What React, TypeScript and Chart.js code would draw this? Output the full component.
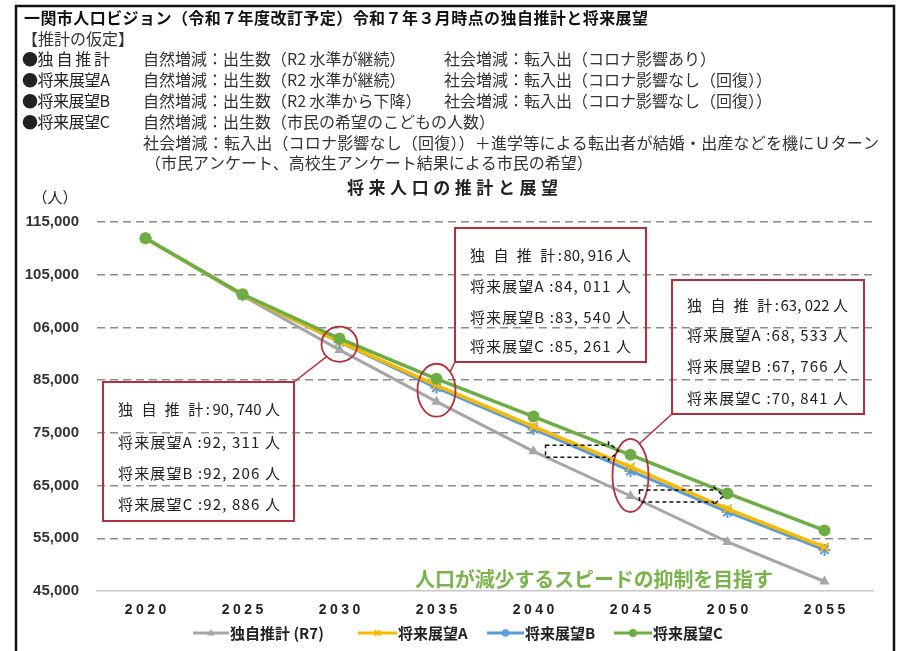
import React, { useEffect, useRef } from 'react';
import { Chart, registerables } from 'chart.js';

Chart.register(...registerables);

// ---------- data ----------
const years = ['2020', '2025', '2030', '2035', '2040', '2045', '2050', '2055'];
const dokujiValues = [111932, 101000, 90740, 80916, 71500, 63022, 54300, 46800];
const visionAValues = [111932, 101200, 92311, 84011, 76200, 68533, 60600, 53300];
const visionBValues = [111932, 101100, 92206, 83540, 75700, 67766, 60000, 52800];
const visionCValues = [111932, 101300, 92886, 85261, 78100, 70841, 63500, 56500];
const seriesNames = ['独自推計 (R7)', '将来展望A', '将来展望B', '将来展望C'];
const seriesColors = ['#A6A6A6', '#F7BA00', '#5B9BD5', '#6EAD45'];
const yTickLabels = ['45,000', '55,000', '65,000', '75,000', '85,000', '06,000', '105,000', '115,000'];
const yMin = 45000;
const yMax = 115000;
const yStep = 10000;

const headerTitle = '一関市人口ビジョン（令和７年度改訂予定）令和７年３月時点の独自推計と将来展望';
const headerSub = '【推計の仮定】';
const headerRows = [
  ['●独 自 推 計', '自然増減：出生数（R2 水準が継続）', '社会増減：転入出（コロナ影響あり）'],
  ['●将来展望A', '自然増減：出生数（R2 水準が継続）', '社会増減：転入出（コロナ影響なし（回復））'],
  ['●将来展望B', '自然増減：出生数（R2 水準から下降）', '社会増減：転入出（コロナ影響なし（回復））'],
  ['●将来展望C', '自然増減：出生数（市民の希望のこどもの人数）', ''],
];
const headerLine7 = '社会増減：転入出（コロナ影響なし（回復））＋進学等による転出者が結婚・出産などを機にＵターン';
const headerLine8 = '（市民アンケート、高校生アンケート結果による市民の希望）';
const chartTitle = '将来人口の推計と展望';
const unitLabel = '（人）';
const goalText = '人口が減少するスピードの抑制を目指す';

const calloutNames = ['独 自 推 計', '将来展望A', '将来展望B', '将来展望C'];
const callout2030 = ['90, 740', '92, 311', '92, 206', '92, 886'];
const callout2035 = ['80, 916', '84, 011', '83, 540', '85, 261'];
const callout2045 = ['63, 022', '68, 533', '67, 766', '70, 841'];

const JP = '"Noto Sans CJK JP", "Noto Sans", sans-serif';
const RED = '#B0303C';

function drawText(
  ctx: CanvasRenderingContext2D,
  text: string,
  x: number,
  y: number,
  font: string,
  color: string,
  opts: { width?: number; align?: 'left' | 'center' | 'right'; spacing?: number } = {}
) {
  ctx.save();
  ctx.font = font;
  ctx.fillStyle = color;
  ctx.textBaseline = 'middle';
  ctx.textAlign = 'left';
  (ctx as any).letterSpacing = '0px';
  const n = Array.from(text).length;
  const natural = ctx.measureText(text).width;
  let sp = opts.spacing ?? 0;
  if (opts.width != null && n > 1) sp = (opts.width - natural) / (n - 1);
  const total = natural + sp * (n - 1);
  let left = x;
  if (opts.align === 'center') left = x - total / 2;
  else if (opts.align === 'right') left = x - total;
  (ctx as any).letterSpacing = sp + 'px';
  ctx.fillText(text, left, y);
  ctx.restore();
  return total;
}

function drawMarker(ctx: CanvasRenderingContext2D, kind: number, x: number, y: number, r: number, color: string) {
  ctx.save();
  ctx.fillStyle = color;
  ctx.strokeStyle = color;
  ctx.lineWidth = 2;
  ctx.beginPath();
  if (kind === 0) {
    ctx.moveTo(x, y - r);
    ctx.lineTo(x + r * 0.95, y + r * 0.65);
    ctx.lineTo(x - r * 0.95, y + r * 0.65);
    ctx.closePath();
    ctx.fill();
  } else if (kind === 1) {
    ctx.moveTo(x - r * 0.7, y - r * 0.7);
    ctx.lineTo(x + r * 0.7, y + r * 0.7);
    ctx.moveTo(x + r * 0.7, y - r * 0.7);
    ctx.lineTo(x - r * 0.7, y + r * 0.7);
    ctx.stroke();
  } else if (kind === 2) {
    ctx.moveTo(x - r * 0.7, y - r * 0.7);
    ctx.lineTo(x + r * 0.7, y + r * 0.7);
    ctx.moveTo(x + r * 0.7, y - r * 0.7);
    ctx.lineTo(x - r * 0.7, y + r * 0.7);
    ctx.moveTo(x, y - r);
    ctx.lineTo(x, y + r);
    ctx.stroke();
  } else {
    ctx.arc(x, y, r, 0, Math.PI * 2);
    ctx.fill();
  }
  ctx.restore();
}

const decorPlugin = {
  id: 'decor',
  beforeDraw(chart: any) {
    const ctx: CanvasRenderingContext2D = chart.ctx;
    ctx.save();
    ctx.fillStyle = '#ffffff';
    ctx.fillRect(0, 0, chart.width, chart.height);
    // frame
    ctx.strokeStyle = '#111';
    ctx.lineWidth = 2.5;
    ctx.beginPath();
    ctx.moveTo(16, 651);
    ctx.lineTo(16, 6);
    ctx.lineTo(894, 6);
    ctx.lineTo(894, 651);
    ctx.stroke();
    ctx.restore();

    drawText(ctx, headerTitle, 24, 18, `bold 16px ${JP}`, '#111', { width: 624 });
    drawText(ctx, headerSub, 22, 39, `16px ${JP}`, '#333');
    const rowY = [59, 80, 101, 122];
    headerRows.forEach((row, i) => {
      drawText(ctx, row[0], 22, rowY[i], `16px ${JP}`, '#222', { width: 88 });
      drawText(ctx, row[1], 143, rowY[i], `16px ${JP}`, '#333');
      if (row[2]) drawText(ctx, row[2], 444, rowY[i], `16px ${JP}`, '#333');
    });
    drawText(ctx, headerLine7, 143, 143, `16px ${JP}`, '#333', { width: 736 });
    drawText(ctx, headerLine8, 145, 163, `16px ${JP}`, '#333');
    drawText(ctx, chartTitle, 347, 188, `bold 17px ${JP}`, '#222', { width: 211 });
    drawText(ctx, unitLabel, 55, 197, `15px ${JP}`, '#222', { align: 'center' });
  },
  afterDraw(chart: any) {
    const ctx: CanvasRenderingContext2D = chart.ctx;
    const xs = chart.scales.x;
    const ys = chart.scales.y;
    const series = [dokujiValues, visionAValues, visionBValues, visionCValues];

    // x tick labels
    years.forEach((yr, i) => {
      drawText(ctx, yr, xs.getPixelForValue(i), 610, 'bold 14px "Liberation Sans", Arial, sans-serif', '#222', {
        align: 'center',
        spacing: 3.5,
      });
    });

    // legend
    const legendY = 633;
    const legendLines = [
      [193, 229],
      [358, 397],
      [487, 524],
      [614, 652],
    ];
    seriesNames.forEach((name, i) => {
      const [a, b] = legendLines[i];
      ctx.save();
      ctx.strokeStyle = seriesColors[i];
      ctx.lineWidth = 3;
      ctx.beginPath();
      ctx.moveTo(a, legendY);
      ctx.lineTo(b, legendY);
      ctx.stroke();
      ctx.restore();
      drawMarker(ctx, i, (a + b) / 2, legendY, 4, seriesColors[i]);
      drawText(ctx, name, b + 1, legendY, `bold 15px ${JP}`, '#222');
    });

    // ellipses around values
    const ellipse = (idx: number, pad: number, rx: number) => {
      const vals = series.map((s) => s[idx]);
      const top = ys.getPixelForValue(Math.max(...vals));
      const bot = ys.getPixelForValue(Math.min(...vals));
      const cx = xs.getPixelForValue(idx);
      const cy = (top + bot) / 2;
      const ry = (bot - top) / 2 + pad;
      ctx.save();
      ctx.strokeStyle = RED;
      ctx.lineWidth = 1.8;
      ctx.beginPath();
      ctx.ellipse(cx, cy, rx, ry, 0, 0, Math.PI * 2);
      ctx.stroke();
      ctx.restore();
      return { cx, cy, rx, ry };
    };
    const e1 = ellipse(2, 12, 18);
    const e2 = ellipse(3, 15, 19);
    const e3 = ellipse(5, 16, 18);

    // callout boxes
    const box = (x0: number, y0: number, x1: number, y1: number, lineYs: number[], values: string[], tx: number, tw: number) => {
      ctx.save();
      ctx.strokeStyle = RED;
      ctx.lineWidth = 2;
      ctx.strokeRect(x0, y0, x1 - x0, y1 - y0);
      ctx.restore();
      lineYs.forEach((ly, i) => {
        if (i === 0) {
          drawText(ctx, calloutNames[i] + ':', tx, ly, `15px ${JP}`, '#222', { width: 92 });
          drawText(ctx, values[i] + ' 人', tx + tw, ly, `15px ${JP}`, '#222', { align: 'right' });
        } else {
          drawText(ctx, calloutNames[i] + ' :' + values[i] + ' 人', tx, ly, `15px ${JP}`, '#222', { width: tw });
        }
      });
    };
    box(103, 382, 294, 521, [409, 442, 473, 504], callout2030, 118, 162);
    box(455, 228, 646, 362, [255, 286, 317, 346], callout2035, 470, 161);
    box(672, 280, 864, 414, [305, 335, 366, 398], callout2045, 687, 161);

    // connectors
    const connect = (x0: number, y0: number, x1: number, y1: number) => {
      ctx.save();
      ctx.strokeStyle = RED;
      ctx.lineWidth = 1.5;
      ctx.beginPath();
      ctx.moveTo(x0, y0);
      ctx.lineTo(x1, y1);
      ctx.stroke();
      ctx.restore();
    };
    connect(294, 382, e1.cx - e1.rx * 0.72, e1.cy + e1.ry * 0.7);
    connect(455, 362, e2.cx + e2.rx * 0.72, e2.cy - e2.ry * 0.7);
    connect(672, 414, e3.cx + e3.rx * 0.5, e3.cy - e3.ry * 0.87);

    // dashed block arrows
    const arrow = (fromIdx: number, toIdx: number, offL: number, offR: number) => {
      const L = xs.getPixelForValue(fromIdx) + offL;
      const T = xs.getPixelForValue(toIdx) + offR;
      const cy = ys.getPixelForValue(dokujiValues[fromIdx]);
      const H = T - 10;
      ctx.save();
      ctx.strokeStyle = '#111';
      ctx.lineWidth = 1.5;
      ctx.setLineDash([4, 3]);
      ctx.beginPath();
      ctx.moveTo(L, cy - 6);
      ctx.lineTo(H, cy - 6);
      ctx.lineTo(H, cy - 9);
      ctx.lineTo(T, cy);
      ctx.lineTo(H, cy + 9);
      ctx.lineTo(H, cy + 6);
      ctx.lineTo(L, cy + 6);
      ctx.closePath();
      ctx.stroke();
      ctx.restore();
    };
    arrow(4, 5, 12, -12);
    arrow(5, 6, 9, -4);

    // goal text
    drawText(ctx, goalText, 415, 579, `bold 20px ${JP}`, '#7AB34D', { width: 358 });
  },
};

export default function App() {
  const ref = useRef<HTMLCanvasElement>(null);
  useEffect(() => {
    const canvas = ref.current;
    if (!canvas) return;
    const mk = (i: number, data: number[], style: string, radius: number, width: number, order: number) => ({
      label: seriesNames[i],
      data,
      borderColor: seriesColors[i],
      backgroundColor: seriesColors[i],
      pointBackgroundColor: seriesColors[i],
      pointBorderColor: seriesColors[i],
      pointStyle: style,
      pointRadius: radius,
      pointBorderWidth: style === 'circle' || style === 'triangle' ? 0 : 2,
      borderWidth: width,
      tension: 0,
      fill: false,
      order,
    });
    const chart = new Chart(canvas, {
      type: 'line',
      data: {
        labels: years,
        datasets: [
          mk(0, dokujiValues, 'triangle', 6, 3, 3),
          mk(1, visionAValues, 'crossRot', 6, 3.5, 1),
          mk(2, visionBValues, 'star', 6, 3, 2),
          mk(3, visionCValues, 'circle', 6, 3.5, 0),
        ] as any,
      },
      options: {
        animation: false,
        responsive: false,
        devicePixelRatio: 1,
        layout: { padding: { left: 0, right: 26, top: 222, bottom: 60 } },
        plugins: {
          legend: { display: false },
          tooltip: { enabled: false },
          title: { display: false },
        },
        scales: {
          x: {
            type: 'category',
            offset: true,
            grid: { display: false },
            border: { display: true, color: '#C8C8C8', width: 1.5 },
            ticks: { display: false },
            afterFit: (s: any) => {
              s.height = 0;
            },
          },
          y: {
            min: yMin,
            max: yMax,
            ticks: {
              stepSize: yStep,
              padding: 18,
              color: '#333',
              font: { family: '"Liberation Sans", Arial, sans-serif', size: 15, weight: 'bold' },
              callback: (v: any) => yTickLabels[Math.round((Number(v) - yMin) / yStep)] ?? '',
            },
            grid: {
              drawTicks: false,
              lineWidth: 1.5,
              color: (c: any) => (c.tick && c.tick.value === yMin ? 'rgba(0,0,0,0)' : '#8C8C8C'),
            },
            border: { display: false, dash: [8, 5] },
            afterFit: (s: any) => {
              s.width = 97;
            },
          },
        },
      } as any,
      plugins: [decorPlugin],
    });
    return () => chart.destroy();
  }, []);
  return (
    <div style={{ position: 'absolute', left: 0, top: 0, width: 899, height: 651, background: '#fff' }}>
      <canvas ref={ref} width={899} height={651} style={{ display: 'block', width: 899, height: 651 }} />
    </div>
  );
}
